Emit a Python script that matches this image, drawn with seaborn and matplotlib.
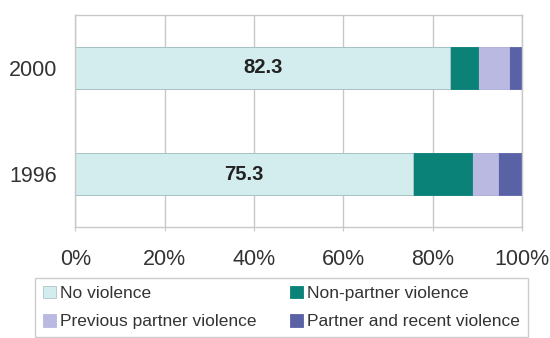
import matplotlib
matplotlib.use("Agg")
import matplotlib.pyplot as plt
from matplotlib.ticker import PercentFormatter
import seaborn as sns
import pandas as pd

sns.set_style("white")
plt.rcParams["font.family"] = ["Liberation Sans", "DejaVu Sans"]

years = ["2000", "1996"]
series = ["No violence", "Non-partner violence",
          "Previous partner violence", "Partner and recent violence"]
no_violence = [84.0, 75.6]
non_partner = [6.2, 13.3]
previous_partner = [6.9, 5.8]
partner_recent = [2.9, 5.3]
bar_labels = ["82.3", "75.3"]

colors = ["#d3ecee", "#0b8278", "#b9b9e2", "#5a62a6"]

df = pd.DataFrame({
    "Year": years,
    series[0]: no_violence,
    series[1]: non_partner,
    series[2]: previous_partner,
    series[3]: partner_recent,
})
cum = df[series].cumsum(axis=1)
cum["Year"] = df["Year"]

fig = plt.figure(figsize=(5.5, 3.38), dpi=100)
ax = fig.add_axes([0.137, 0.328, 0.812, 0.628])

# stacked bars: draw cumulative totals from the widest down
for name, col in reversed(list(zip(series, colors))):
    sns.barplot(data=cum, x=name, y="Year", order=years, color=col,
                orient="h", width=0.4, ax=ax, label=name, saturation=1,
                edgecolor="#b0c4c6" if col == colors[0] else col, linewidth=0.6)

for i, txt in enumerate(bar_labels):
    ax.text(no_violence[i] / 2, i, txt, ha="center", va="center",
            fontsize=14.5, fontweight="bold", color="#222222")

ax.set_xlim(0, 100)
ax.set_ylim(1.5, -0.5)
ax.set_xticks([0, 20, 40, 60, 80, 100])
ax.xaxis.set_major_formatter(PercentFormatter(decimals=0))
ax.grid(axis="x", color="#c8c8c8", linewidth=1)
ax.set_axisbelow(True)
for s in ax.spines.values():
    s.set_color("#c8c8c8")
    s.set_linewidth(1)
ax.tick_params(axis="x", length=3, color="#c8c8c8", pad=13,
               labelsize=15.5, labelcolor="#333333", bottom=True)
ax.tick_params(axis="y", length=0, pad=13, labelsize=15.5, labelcolor="#333333")
ax.set_xlabel("")
ax.set_ylabel("")

handles, labels = ax.get_legend_handles_labels()
# legend fills column-wise; reorder so rows read as in the original
leg_order = [series[0], series[2], series[1], series[3]]
handles = [handles[labels.index(s)] for s in leg_order]
if ax.get_legend():
    ax.get_legend().remove()
fig.legend(handles, leg_order, loc="upper left", bbox_to_anchor=(0.064, 0.178),
           borderaxespad=0, ncol=2, fontsize=12.5, frameon=True, fancybox=False,
           edgecolor="#c0c0c0", handlelength=0.75, handleheight=0.75,
           handletextpad=0.25, columnspacing=1.9, labelspacing=0.75,
           borderpad=0.45, labelcolor="#333333")

fig.savefig("out.png", dpi=100)
